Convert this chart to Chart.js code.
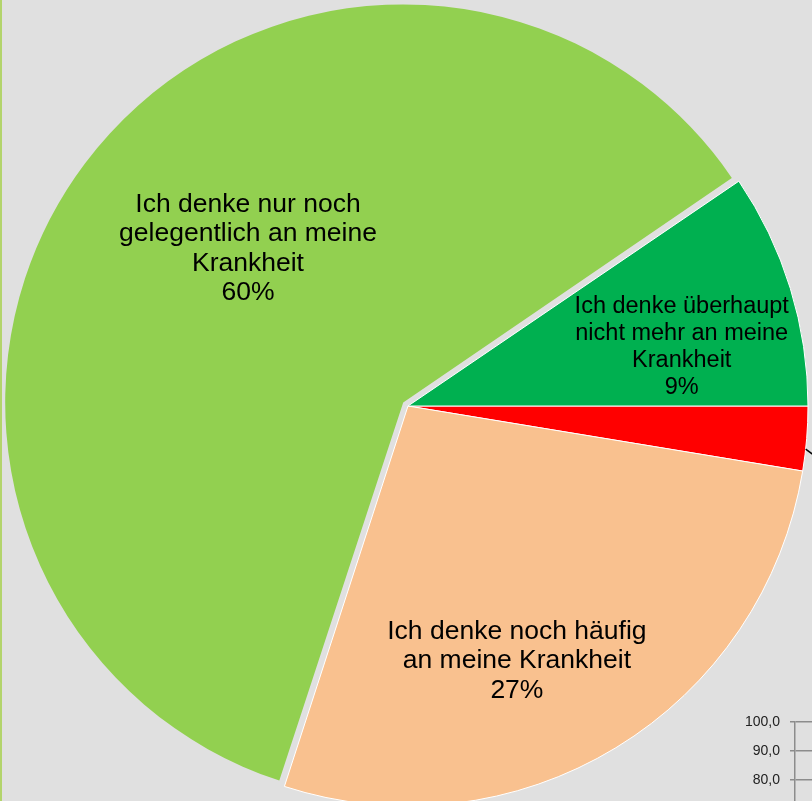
<!DOCTYPE html>
<html lang="de">
<head>
<meta charset="utf-8">
<title>Krankheit</title>
<script src="https://cdn.jsdelivr.net/npm/chart.js@4/dist/chart.umd.min.js"></script>
<style>
    html, body { margin: 0; padding: 0; width: 812px; height: 801px; overflow: hidden; background: #e0e0e0; }
    #pieWrap { position: absolute; left: 0; top: 0; width: 816px; height: 812px; }
    #axisWrap { position: absolute; left: 700px; top: 700px; width: 200px; height: 330px; }
    .edge { position: absolute; left: 0; top: 0; width: 2px; height: 801px; background: #b3d46c; }
</style>
</head>
<body>
<div id="pieWrap"><canvas id="chartPie" width="816" height="812"></canvas></div>
<div id="axisWrap"><canvas id="chartAxis" width="200" height="330"></canvas></div>
<div class="edge"></div>
<script>
'use strict';

// slices clockwise from 3 o'clock; the red label sits outside the visible frame
const categories = [
    ['Ich denke ständig', 'an meine Krankheit'],
    ['Ich denke noch häufig', 'an meine Krankheit'],
    ['Ich denke nur noch', 'gelegentlich an meine', 'Krankheit'],
    ['Ich denke überhaupt', 'nicht mehr an meine', 'Krankheit']
];
const shares = [2.6, 27.4, 60.5, 9.5];
const printed = ['3%', '27%', '60%', '9%'];

// the neighbouring chart peeking in at the bottom right
const axisMin = 0;
const axisMax = 100;
const axisStep = 10;

const RADIUS = 400;
const COLORS = ['#ff0000', '#f9c18f', '#92d050', '#00b050'];
// chart.js moves a slice by offset / 4 and grows it by the same amount
const OFFSETS = [0, 0, 24, 0];
const SHRINK = [0, 0, 8, 0];
// label placement inside each slice: [fraction along the arc, fraction of the radius, font px, line px]
const LABEL_PLACE = [null, [0.583, 0.693, 26.5, 29.5], [0.535, 0.561, 26.5, 29.5], [0.645, 0.70, 23.5, 27]];

const sliceLabels = {
    id: 'sliceLabels',
    afterDatasetUpdate(chart, args) {
        // keep the exploded slice the same size as the rest
        args.meta.data.forEach((arc, i) => {
            arc.outerRadius = RADIUS - SHRINK[i];
        });
    },
    afterDatasetsDraw(chart) {
        let ctx = chart.ctx;
        let arcs = chart.getDatasetMeta(0).data;
        ctx.save();
        ctx.fillStyle = '#000';
        ctx.textAlign = 'center';
        ctx.textBaseline = 'middle';
        arcs.forEach((arc, i) => {
            let place = LABEL_PLACE[i];
            if (!place) {
                // leader line to the label outside the frame
                let a = arc.startAngle + 0.66 * (arc.endAngle - arc.startAngle);
                let x0 = arc.x + Math.cos(a) * RADIUS;
                let y0 = arc.y + Math.sin(a) * RADIUS;
                ctx.strokeStyle = '#000';
                ctx.lineWidth = 1.5;
                ctx.beginPath();
                ctx.moveTo(x0, y0);
                ctx.lineTo(x0 + 24, y0 + 18);
                ctx.stroke();
                return;
            }
            let a = arc.startAngle + place[0] * (arc.endAngle - arc.startAngle);
            let r = place[1] * RADIUS;
            let cx = arc.x + Math.cos(a) * r;
            let cy = arc.y + Math.sin(a) * r;
            let lines = categories[i].concat([printed[i]]);
            ctx.font = place[2] + 'px "Liberation Sans", Arial, sans-serif';
            let top = cy - (lines.length - 1) * place[3] / 2;
            lines.forEach((line, k) => ctx.fillText(line, cx, top + k * place[3]));
        });
        ctx.restore();
    }
};

new Chart(document.getElementById('chartPie'), {
    type: 'pie',
    data: {
        labels: categories,
        datasets: [{
            data: shares,
            backgroundColor: COLORS,
            borderColor: '#ffffff',
            borderWidth: [1, 1, 0, 1],
            offset: OFFSETS,
            radius: RADIUS
        }]
    },
    options: {
        responsive: false,
        animation: false,
        events: [],
        rotation: 90,
        plugins: { legend: { display: false }, tooltip: { enabled: false } }
    },
    plugins: [sliceLabels]
});

new Chart(document.getElementById('chartAxis'), {
    type: 'line',
    data: { labels: [''], datasets: [{ data: [] }] },
    options: {
        responsive: false,
        animation: false,
        events: [],
        layout: { padding: { top: 22 } },
        plugins: { legend: { display: false }, tooltip: { enabled: false } },
        scales: {
            x: { display: false },
            y: {
                min: axisMin,
                max: axisMax,
                afterFit: scale => { scale.width = 95; },
                ticks: {
                    stepSize: axisStep,
                    padding: 10,
                    color: '#222',
                    font: { family: '"Liberation Sans", Arial, sans-serif', size: 14 },
                    callback: v => v.toFixed(1).replace('.', ',')
                },
                grid: { color: '#8c8c8c', tickLength: 5, lineWidth: 1.5 },
                border: { color: '#8c8c8c', width: 1.5 }
            }
        }
    }
});
</script>
</body>
</html>
